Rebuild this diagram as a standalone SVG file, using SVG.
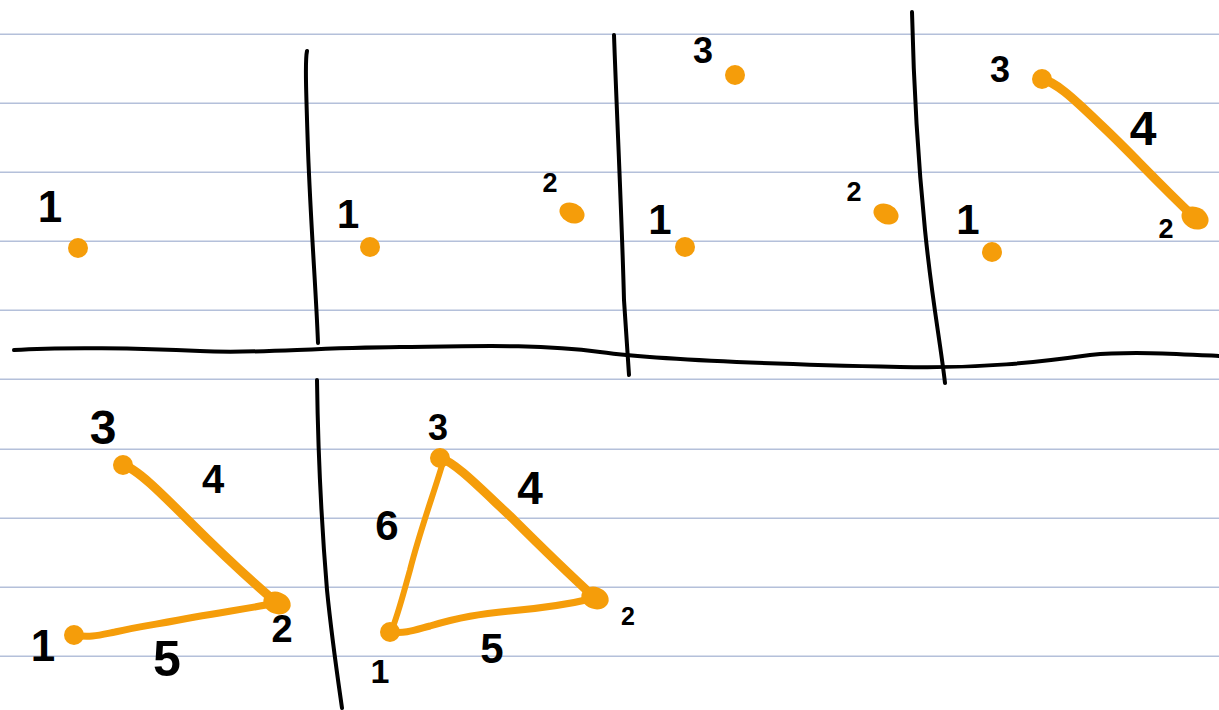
<svg xmlns="http://www.w3.org/2000/svg" width="1219" height="710" viewBox="0 0 1219 710">
<style>
.rule{stroke:#b4c0da;stroke-width:1.5}
.div{fill:none;stroke:#000;stroke-width:4;stroke-linecap:round;stroke-linejoin:round}
.edge{fill:none;stroke:#f59d0a;stroke-linecap:round;stroke-linejoin:round}
.dot{fill:#f59d0a}
.lbl{font-family:"Liberation Sans",Arial,sans-serif;font-weight:bold;fill:#000;text-anchor:middle}
</style>
<rect width="1219" height="710" fill="#fff"/>
<g id="rules">
<line class="rule" x1="0" y1="34.3" x2="1219" y2="34.3"/>
<line class="rule" x1="0" y1="103.3" x2="1219" y2="103.3"/>
<line class="rule" x1="0" y1="172.3" x2="1219" y2="172.3"/>
<line class="rule" x1="0" y1="241.3" x2="1219" y2="241.3"/>
<line class="rule" x1="0" y1="310.3" x2="1219" y2="310.3"/>
<line class="rule" x1="0" y1="379.3" x2="1219" y2="379.3"/>
<line class="rule" x1="0" y1="449.3" x2="1219" y2="449.3"/>
<line class="rule" x1="0" y1="518.3" x2="1219" y2="518.3"/>
<line class="rule" x1="0" y1="587.3" x2="1219" y2="587.3"/>
<line class="rule" x1="0" y1="656.3" x2="1219" y2="656.3"/>
</g>
<g id="dividers">
<path class="div" d="M307,51 C305,60 306,90 308,150 C311,230 316,290 318,343"/>
<path class="div" d="M614,35 C617,120 622,220 624,300 C626,330 628,360 629,375"/>
<path class="div" d="M912,12 C914,100 920,180 925,230 C932,300 940,340 945,383"/>
<path class="div" d="M317,380 C318,450 322,530 327,590 C332,640 338,680 342,708"/>
<path class="div" d="M14,350 C60,347 140,348 200,351 C260,354 300,348 400,347 C480,346 540,344 600,352 C660,360 760,364 900,367 C980,369 1040,362 1090,355 C1130,351 1180,354 1219,356"/>
</g>
<g id="connectors">
<path class="edge" stroke-width="9" d="M1042,79 C1055,82 1070,95 1100,124 C1130,152 1150,175 1195,218"/>
<path class="edge" stroke-width="9" d="M123,465 C136,468 160,492 190,522 C220,552 250,580 277,603"/>
<path class="edge" stroke-width="7" d="M74,635 C90,638 100,635 115,632 C140,626 160,624 195,617 C230,611 250,608 277,603"/>
<path class="edge" stroke-width="9" d="M440,458 C455,462 480,488 510,516 C540,546 570,575 595,598"/>
<path class="edge" stroke-width="6" d="M443,462 C435,490 420,530 410,570 C403,595 398,615 391,632"/>
<path class="edge" stroke-width="7" d="M391,632 C405,634 415,630 430,626 C460,617 480,614 510,611 C545,608 570,604 595,598"/>
</g>
<g id="dots">
<circle class="dot" cx="78" cy="248" r="10"/>
<circle class="dot" cx="370" cy="247" r="10"/>
<ellipse class="dot" cx="572" cy="213" rx="13" ry="10" transform="rotate(25 572 213)"/>
<circle class="dot" cx="735" cy="75" r="10"/>
<circle class="dot" cx="685" cy="247" r="10"/>
<ellipse class="dot" cx="886" cy="214" rx="13" ry="10" transform="rotate(25 886 214)"/>
<circle class="dot" cx="992" cy="252" r="10"/>
<circle class="dot" cx="1042" cy="79" r="10"/>
<ellipse class="dot" cx="1195" cy="218" rx="14" ry="11" transform="rotate(25 1195 218)"/>
<circle class="dot" cx="123" cy="465" r="10"/>
<ellipse class="dot" cx="277" cy="603" rx="14" ry="11" transform="rotate(20 277 603)"/>
<circle class="dot" cx="74" cy="635" r="10"/>
<circle class="dot" cx="440" cy="458" r="10"/>
<ellipse class="dot" cx="595" cy="598" rx="14" ry="11" transform="rotate(20 595 598)"/>
<circle class="dot" cx="390" cy="632" r="10"/>
</g>
<g id="labels">
<text class="lbl" x="50" y="222" font-size="44">1</text>
<text class="lbl" x="348" y="228" font-size="40">1</text>
<text class="lbl" x="550" y="192" font-size="27">2</text>
<text class="lbl" x="703" y="63" font-size="36">3</text>
<text class="lbl" x="660" y="234" font-size="42">1</text>
<text class="lbl" x="854" y="201" font-size="27">2</text>
<text class="lbl" x="1000" y="82" font-size="36">3</text>
<text class="lbl" x="1143" y="145" font-size="48">4</text>
<text class="lbl" x="1166" y="238" font-size="27">2</text>
<text class="lbl" x="968" y="234" font-size="42">1</text>
<text class="lbl" x="103" y="444" font-size="48">3</text>
<text class="lbl" x="213" y="493" font-size="40">4</text>
<text class="lbl" x="282" y="642" font-size="38">2</text>
<text class="lbl" x="43" y="661" font-size="44">1</text>
<text class="lbl" x="167" y="676" font-size="50">5</text>
<text class="lbl" x="438" y="440" font-size="36">3</text>
<text class="lbl" x="530" y="504" font-size="46">4</text>
<text class="lbl" x="387" y="540" font-size="42">6</text>
<text class="lbl" x="628" y="625" font-size="25">2</text>
<text class="lbl" x="492" y="663" font-size="42">5</text>
<text class="lbl" x="380" y="683" font-size="34">1</text>
</g>
</svg>
